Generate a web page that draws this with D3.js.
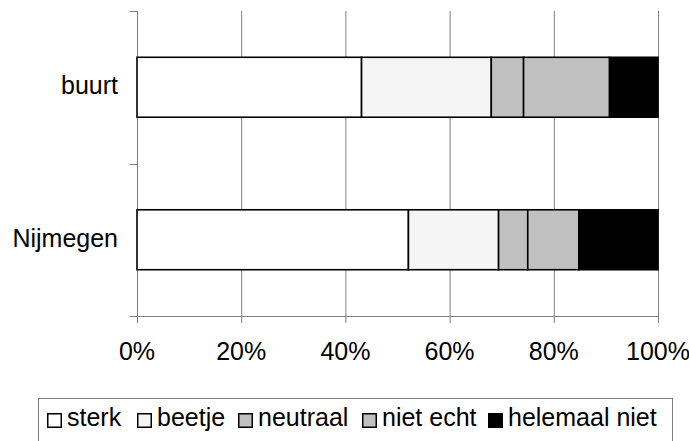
<!DOCTYPE html>
<html>
<head>
<meta charset="utf-8">
<script src="https://cdn.jsdelivr.net/npm/d3@7/dist/d3.min.js"></script>
<style>
  html, body { margin: 0; padding: 0; background: #fff; }
  svg { display: block; font-family: Arial, "Liberation Sans", sans-serif; }
</style>
</head>
<body>
<svg id="chart" width="689" height="441"></svg>
<script>
const categories = ["buurt", "Nijmegen"];
const seriesNames = ["sterk", "beetje", "neutraal", "niet echt", "helemaal niet"];
const sterk = [43.1, 52.1];
const beetje = [24.9, 17.3];
const neutraal = [6.2, 5.6];
const nietEcht = [16.5, 9.8];
const helemaalNiet = [9.3, 15.2];
const xTicks = [0, 20, 40, 60, 80, 100];
const colors = ["#ffffff", "#f5f5f5", "#c0c0c0", "#c0c0c0", "#000000"];

const seriesValues = [sterk, beetje, neutraal, nietEcht, helemaalNiet];
const rows = categories.map((c, i) => {
  const r = { cat: c };
  seriesNames.forEach((s, j) => r[s] = seriesValues[j][i]);
  return r;
});

const svg = d3.select("#chart");
const pLeft = 137, pRight = 658, pTop = 11, pBottom = 316;
const fs = 25;

const x = d3.scaleLinear().domain([0, 100]).range([pLeft, pRight]);
const y = d3.scaleBand().domain(categories).range([pTop, pBottom]).paddingInner(0.607).paddingOuter(0.3035);

// gridlines
svg.append("g").selectAll("line").data(xTicks).join("line")
  .attr("x1", d => x(d) + 0.5).attr("x2", d => x(d) + 0.5)
  .attr("y1", pTop).attr("y2", pBottom + 7)
  .attr("stroke", "#808080").attr("stroke-width", 1);

// x axis line
svg.append("line").attr("x1", pLeft - 7).attr("x2", pRight + 0.5)
  .attr("y1", pBottom + 0.5).attr("y2", pBottom + 0.5)
  .attr("stroke", "#808080");

// y axis ticks (category boundaries)
const yTickPos = [pTop, (pTop + pBottom) / 2, pBottom];
svg.append("g").selectAll("line").data(yTickPos).join("line")
  .attr("x1", pLeft - 7).attr("x2", pLeft)
  .attr("y1", d => Math.round(d) + 0.5).attr("y2", d => Math.round(d) + 0.5)
  .attr("stroke", "#808080");

// bars
const stack = d3.stack().keys(seriesNames)(rows);
svg.append("g").selectAll("g").data(stack).join("g")
  .attr("fill", (d, i) => colors[i])
  .selectAll("rect").data(d => d).join("rect")
  .attr("x", d => x(d[0]))
  .attr("width", d => x(d[1]) - x(d[0]))
  .attr("y", d => y(d.data.cat))
  .attr("height", y.bandwidth())
  .attr("stroke", "#000").attr("stroke-width", 1.6);

// x tick labels
svg.append("g").selectAll("text").data(xTicks).join("text")
  .attr("x", d => x(d)).attr("y", 360)
  .attr("text-anchor", "middle")
  .attr("font-size", fs).attr("fill", "#000")
  .text(d => d + "%");

// y labels
svg.append("g").selectAll("text").data(categories).join("text")
  .attr("x", 118).attr("y", d => y(d) + y.bandwidth() / 2 + 7)
  .attr("text-anchor", "end")
  .attr("font-size", fs).attr("fill", "#000")
  .text(d => d);

// legend
svg.append("rect").attr("x", 38.5).attr("y", 398.5).attr("width", 634).attr("height", 80)
  .attr("fill", "none").attr("stroke", "#808080");
const legendX = [47, 137, 238, 362, 488];
const lg = svg.append("g").selectAll("g").data(seriesNames).join("g")
  .attr("transform", (d, i) => `translate(${legendX[i]},413)`);
lg.append("rect").attr("x", 0.75).attr("y", 0.75).attr("width", 13.5).attr("height", 13.5)
  .attr("fill", (d, i) => colors[i]).attr("stroke", "#000").attr("stroke-width", 1.5);
lg.append("text").attr("x", 20).attr("y", 13)
  .attr("font-size", fs).attr("fill", "#000").text(d => d);
</script>
</body>
</html>
